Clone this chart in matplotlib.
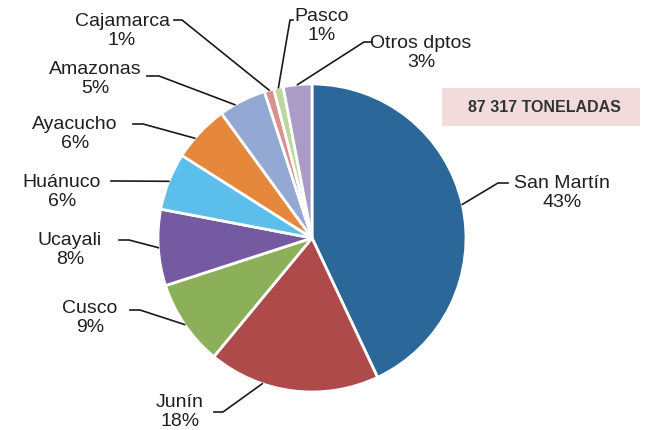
import numpy as np
import matplotlib.pyplot as plt

plt.rcParams['font.family'] = ['Liberation Sans', 'DejaVu Sans']

# data
departamentos = ['San Martín', 'Junín', 'Cusco', 'Ucayali', 'Huánuco',
                 'Ayacucho', 'Amazonas', 'Cajamarca', 'Pasco', 'Otros dptos']
porcentajes = [43, 18, 9, 8, 6, 6, 5, 1, 1, 3]
colores = ['#2C679A', '#AE4B4A', '#8CB05A', '#745AA0', '#5CBEEA',
           '#E5883C', '#93A9D3', '#D9908F', '#BBD79C', '#AA9CC7']
total_txt = '87 317 TONELADAS'

# layout in pixels (x from left, y from top): text centre, line start
W, H = 646, 430
txt_pos = [(562, 193), (180, 412), (90, 318), (70, 250), (62, 192),
           (75, 134), (95, 79), (122, 31), (322, 26), (421, 53)]
line_start = [(508, 183), (214, 412), (130, 310), (119, 240), (111, 181),
              (133, 124), (147, 76), (174, 20), (293, 20), (372, 42)]
stub = [-10, 9, 10, 10, 10, 10, 12, 8, -3, -8]
frac = [0.5, 0.68, 0.5, 0.5, 0.5, 0.37, 0.33, 0.5, 0.5, 0.5]  # where the leader hits the wedge
cx, cy, r = 312, 238, 154

fig = plt.figure(figsize=(W / 100, H / 100), dpi=100)
ax = fig.add_axes([0, 0, 1, 1])

wedges, _ = ax.pie(porcentajes, colors=colores, startangle=90, counterclock=False,
                   center=(cx, H - cy), radius=r,
                   wedgeprops=dict(edgecolor='white', linewidth=2))
ax.set_xlim(0, W)
ax.set_ylim(0, H)
ax.set_aspect('equal')
ax.axis('off')

for i, w in enumerate(wedges):
    # theta2 is the start of the wedge when drawn clockwise
    ang = np.deg2rad(w.theta2 + (w.theta1 - w.theta2) * frac[i])
    ex = cx + r * np.cos(ang)
    ey = (H - cy) + r * np.sin(ang)
    sx, sy = line_start[i]
    ax.plot([sx, sx + stub[i], ex], [H - sy, H - sy, ey], color='#1a1a1a', lw=1.2)
    tx, ty = txt_pos[i]
    ax.text(tx, H - ty, f'{departamentos[i]}\n{porcentajes[i]}%', ha='center', va='center',
            fontsize=14, color='#1f1f1f', linespacing=1.15)

ax.add_patch(plt.Rectangle((442, H - 126), 198, 38, facecolor='#F2DCDB', edgecolor='none'))
ax.text(544, H - 107, total_txt, ha='center', va='center', fontsize=11.5,
        fontweight='bold', color='#333333')

fig.savefig('out.png', dpi=100)
